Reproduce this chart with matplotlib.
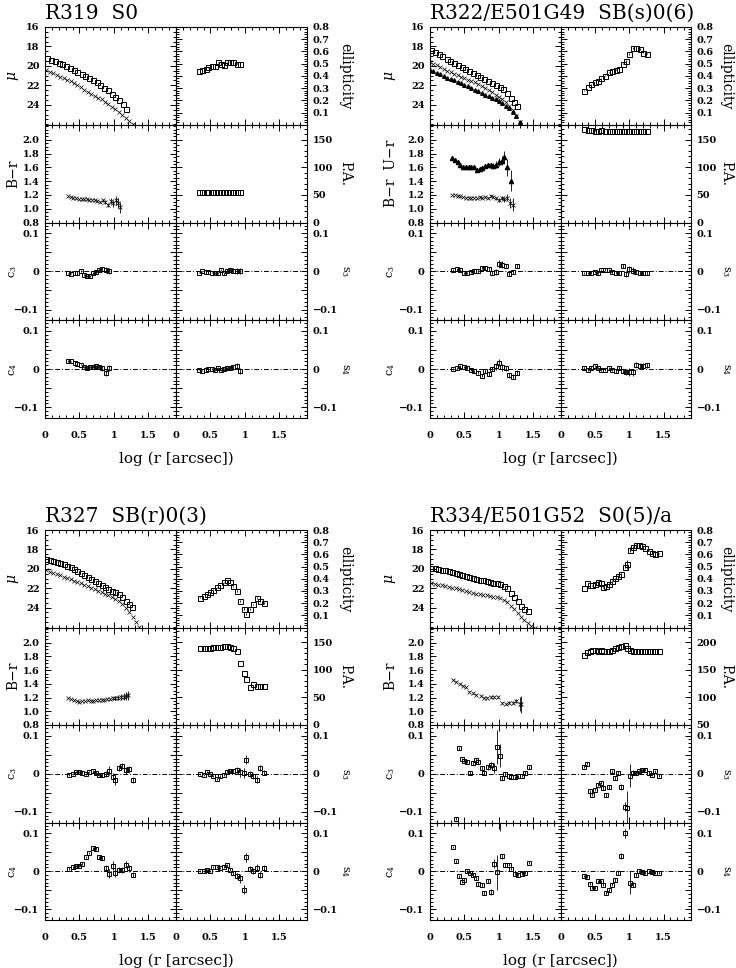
import numpy as np
import matplotlib
matplotlib.use('Agg')
import matplotlib.pyplot as plt
from matplotlib.ticker import MultipleLocator, FixedLocator, FuncFormatter

plt.rcParams['font.family'] = 'DejaVu Serif'
plt.rcParams['mathtext.fontset'] = 'dejavuserif'
plt.rcParams['axes.linewidth'] = 0.8

# ---------------- R319 S0 ----------------
r319_mu_R_x = [0.03, 0.09, 0.14, 0.20, 0.25, 0.31, 0.36, 0.42, 0.47, 0.53, 0.58,
               0.64, 0.69, 0.75, 0.80, 0.86, 0.91, 0.97, 1.02, 1.08, 1.13, 1.18]
r319_mu_R = [19.2, 19.35, 19.5, 19.7, 19.85, 20.0, 20.2, 20.4, 20.6, 20.8, 21.0,
             21.2, 21.4, 21.7, 22.0, 22.3, 22.5, 22.9, 23.2, 23.55, 23.95, 24.45]
r319_mu_B_x = [0.02, 0.07, 0.12, 0.17, 0.22, 0.27, 0.32, 0.37, 0.42, 0.47, 0.52, 0.57, 0.62,
               0.67, 0.72, 0.77, 0.82, 0.87, 0.92, 0.97, 1.02, 1.07, 1.12, 1.17, 1.22, 1.27]
r319_mu_B = [20.4, 20.6, 20.75, 20.9, 21.1, 21.25, 21.45, 21.6, 21.8, 22.0, 22.2, 22.45, 22.65,
             22.85, 23.05, 23.25, 23.45, 23.7, 23.95, 24.2, 24.45, 24.75, 25.05, 25.4, 25.7, 26.0]
r319_col_x = [0.34, 0.375, 0.41, 0.45, 0.49, 0.53, 0.57, 0.61, 0.64, 0.68, 0.72,
              0.76, 0.80, 0.84, 0.875, 0.91, 0.95, 0.99, 1.03, 1.06, 1.09]
r319_col = [1.18, 1.17, 1.16, 1.15, 1.14, 1.14, 1.14, 1.14, 1.13, 1.13, 1.12,
            1.11, 1.10, 1.12, 1.10, 1.05, 1.11, 1.08, 1.12, 1.08, 1.02]
r319_col_err = [0.005, 0.005, 0.005, 0.006, 0.006, 0.007, 0.008, 0.008, 0.009, 0.01, 0.012,
                0.014, 0.016, 0.02, 0.025, 0.03, 0.04, 0.05, 0.06, 0.07, 0.08]
r319_iso_x = [0.34, 0.38, 0.43, 0.47, 0.52, 0.56, 0.61, 0.65, 0.70, 0.74, 0.79, 0.83, 0.88, 0.93]
r319_ell = [0.44, 0.45, 0.46, 0.47, 0.48, 0.48, 0.51, 0.50, 0.49, 0.51, 0.51, 0.51, 0.50, 0.50]
r319_pa = [55, 55, 55, 56, 56, 56, 56, 56, 56, 56, 55, 55, 56, 56]
r319_c3 = [-0.005, -0.006, -0.004, -0.003, 0.001, -0.010, -0.012, -0.012, -0.005, -0.002, 0.003, 0.005, 0.003, 0.002]
r319_s3 = [-0.003, 0.000, -0.001, -0.002, -0.003, -0.005, -0.005, 0.003, -0.005, 0.001, 0.003, 0.002, 0.002, 0.002]
r319_c4 = [0.021, 0.020, 0.017, 0.013, 0.012, 0.006, 0.004, 0.005, 0.006, 0.007, 0.005, 0.002, -0.010, 0.004]
r319_s4 = [-0.001, -0.004, -0.003, 0.000, 0.001, -0.002, 0.003, -0.003, 0.000, 0.002, 0.003, 0.005, 0.008, -0.006]
r319_herr = [0.002, 0.002, 0.002, 0.002, 0.002, 0.003, 0.003, 0.003, 0.004, 0.004, 0.005, 0.006, 0.008, 0.008]

# ---------------- R322/E501G49 ----------------
r322_mu_R_x = [0.02, 0.07, 0.13, 0.18, 0.24, 0.29, 0.35, 0.40, 0.46, 0.51, 0.57, 0.62,
               0.68, 0.73, 0.79, 0.84, 0.90, 0.95, 1.01, 1.06, 1.12, 1.17, 1.22, 1.26]
r322_mu_R = [18.4, 18.6, 18.8, 19.0, 19.3, 19.5, 19.7, 19.9, 20.15, 20.35, 20.55, 20.75,
             20.95, 21.15, 21.35, 21.55, 21.75, 21.95, 22.15, 22.35, 22.8, 23.3, 23.7, 24.1]
r322_mu_B_x = [0.00, 0.05, 0.10, 0.15, 0.20, 0.25, 0.30, 0.35, 0.40, 0.45, 0.50, 0.55, 0.60, 0.65,
               0.70, 0.75, 0.80, 0.85, 0.90, 0.95, 1.00, 1.05, 1.10, 1.15, 1.20, 1.25, 1.30]
r322_mu_B = [19.6, 19.8, 19.95, 20.15, 20.35, 20.5, 20.65, 20.8, 20.95, 21.1, 21.25, 21.4, 21.55, 21.7,
             21.9, 22.05, 22.25, 22.45, 22.7, 22.95, 23.2, 23.45, 23.75, 24.1, 24.5, 25.1, 25.8]
r322_mu_U_x = [0.00, 0.05, 0.10, 0.15, 0.20, 0.25, 0.30, 0.35, 0.40, 0.45, 0.50, 0.55, 0.60, 0.65,
               0.70, 0.75, 0.80, 0.85, 0.90, 0.95, 1.00, 1.05, 1.10, 1.15, 1.20, 1.25, 1.30]
r322_mu_U = [20.4, 20.55, 20.7, 20.85, 21.05, 21.2, 21.35, 21.5, 21.65, 21.8, 21.95, 22.1, 22.3, 22.45,
             22.6, 22.75, 22.95, 23.1, 23.3, 23.45, 23.65, 23.85, 24.1, 24.35, 24.7, 25.2, 25.8]
r322_col_x = [0.32, 0.36, 0.40, 0.44, 0.48, 0.52, 0.56, 0.60, 0.64, 0.68, 0.72, 0.76,
              0.80, 0.84, 0.88, 0.92, 0.96, 1.00, 1.04, 1.08, 1.12, 1.16, 1.20]
r322_col = [1.20, 1.20, 1.19, 1.18, 1.17, 1.16, 1.16, 1.15, 1.16, 1.15, 1.17, 1.16,
            1.17, 1.16, 1.18, 1.17, 1.15, 1.13, 1.16, 1.14, 1.16, 1.08, 1.06]
r322_col_err = [0.005, 0.005, 0.005, 0.005, 0.006, 0.006, 0.006, 0.007, 0.007, 0.008, 0.009, 0.01,
                0.011, 0.012, 0.014, 0.016, 0.02, 0.025, 0.03, 0.035, 0.05, 0.07, 0.09]
r322_ur_x = [0.32, 0.36, 0.40, 0.44, 0.48, 0.52, 0.56, 0.60, 0.64, 0.68, 0.72,
             0.76, 0.80, 0.84, 0.88, 0.92, 0.96, 1.00, 1.04, 1.08, 1.12, 1.17]
r322_ur = [1.74, 1.71, 1.68, 1.63, 1.61, 1.61, 1.61, 1.61, 1.60, 1.56, 1.57,
           1.59, 1.62, 1.64, 1.63, 1.62, 1.64, 1.68, 1.70, 1.75, 1.60, 1.41]
r322_ur_err = [0.01, 0.01, 0.01, 0.01, 0.01, 0.01, 0.01, 0.012, 0.012, 0.014, 0.016,
               0.02, 0.025, 0.03, 0.035, 0.04, 0.05, 0.06, 0.07, 0.09, 0.12, 0.15]
r322_iso_x = [0.34, 0.39, 0.44, 0.49, 0.54, 0.59, 0.64, 0.70, 0.75, 0.80,
              0.85, 0.90, 0.95, 1.00, 1.05, 1.10, 1.15, 1.20, 1.26]
r322_ell = [0.28, 0.31, 0.33, 0.35, 0.36, 0.38, 0.40, 0.43, 0.44, 0.45,
            0.46, 0.50, 0.52, 0.58, 0.63, 0.63, 0.62, 0.59, 0.58]
r322_pa = [169, 168, 167, 166, 166, 167, 165, 166, 166, 165, 166, 166, 165, 165, 165, 166, 165, 166, 165]
r322_c3 = [0.004, 0.005, 0.003, -0.004, -0.004, -0.002, 0.001, 0.001, 0.009, 0.008,
           0.006, -0.004, -0.001, 0.020, 0.017, 0.014, -0.006, -0.002, 0.014]
r322_s3 = [-0.004, -0.004, -0.003, -0.002, -0.003, 0.003, 0.004, 0.003, -0.002, -0.003,
           -0.004, 0.014, -0.006, 0.005, 0.002, -0.002, -0.004, -0.004, -0.004]
r322_c4 = [0.000, 0.003, 0.007, 0.006, 0.004, -0.001, -0.005, -0.009, -0.017, -0.004,
           -0.012, 0.000, 0.007, 0.017, 0.005, 0.002, -0.016, -0.020, -0.009]
r322_s4 = [0.003, -0.001, 0.004, 0.008, 0.003, -0.001, -0.001, 0.002, -0.001, -0.004,
           0.002, -0.005, -0.008, -0.007, -0.008, 0.012, 0.009, 0.009, 0.010]
r322_herr = [0.003, 0.003, 0.003, 0.003, 0.003, 0.003, 0.004, 0.004, 0.004, 0.005,
             0.005, 0.006, 0.008, 0.01, 0.009, 0.006, 0.006, 0.006, 0.006]

# ---------------- R327 ----------------
r327_mu_R_x = [0.02, 0.07, 0.12, 0.17, 0.22, 0.27, 0.32, 0.37, 0.42, 0.47, 0.52, 0.57, 0.62,
               0.67, 0.72, 0.77, 0.82, 0.87, 0.92, 0.97, 1.02, 1.07, 1.12, 1.17, 1.22, 1.26]
r327_mu_R = [18.95, 19.05, 19.15, 19.25, 19.4, 19.55, 19.7, 19.85, 20.05, 20.25, 20.45, 20.65, 20.85,
             21.05, 21.25, 21.45, 21.65, 21.85, 22.05, 22.25, 22.4, 22.6, 22.95, 23.3, 23.6, 23.9]
r327_mu_B_x = [0.02, 0.07, 0.12, 0.17, 0.22, 0.27, 0.32, 0.37, 0.42, 0.47, 0.52, 0.57, 0.62, 0.67,
               0.72, 0.77, 0.82, 0.87, 0.92, 0.97, 1.02, 1.07, 1.12, 1.17, 1.22, 1.27, 1.32, 1.37]
r327_mu_B = [20.15, 20.3, 20.4, 20.55, 20.65, 20.8, 20.95, 21.1, 21.25, 21.4, 21.5, 21.65, 21.8, 21.95,
             22.1, 22.25, 22.4, 22.55, 22.7, 22.9, 23.1, 23.35, 23.65, 24.0, 24.45, 25.0, 25.5, 26.0]
r327_col_x = [0.34, 0.38, 0.42, 0.46, 0.50, 0.54, 0.58, 0.62, 0.66, 0.70, 0.74, 0.78,
              0.82, 0.86, 0.90, 0.94, 0.98, 1.02, 1.06, 1.10, 1.14, 1.18, 1.21]
r327_col = [1.19, 1.18, 1.16, 1.15, 1.14, 1.15, 1.15, 1.16, 1.15, 1.15, 1.16, 1.16,
            1.17, 1.17, 1.18, 1.18, 1.19, 1.19, 1.20, 1.21, 1.21, 1.22, 1.23]
r327_col_err = [0.004, 0.004, 0.004, 0.005, 0.005, 0.005, 0.006, 0.006, 0.007, 0.008, 0.009, 0.01,
                0.012, 0.014, 0.016, 0.02, 0.025, 0.03, 0.035, 0.04, 0.05, 0.06, 0.07]
r327_iso_x = [0.35, 0.40, 0.45, 0.50, 0.54, 0.59, 0.64, 0.69, 0.74, 0.78,
              0.83, 0.88, 0.93, 0.98, 1.02, 1.07, 1.12, 1.17, 1.22, 1.27]
r327_ell = [0.245, 0.26, 0.275, 0.29, 0.31, 0.33, 0.345, 0.37, 0.39, 0.37,
            0.34, 0.30, 0.22, 0.155, 0.11, 0.15, 0.19, 0.24, 0.22, 0.20]
r327_pa = [139, 139, 140, 140, 141, 141, 142, 144, 143, 142,
           140, 135, 112, 95, 84, 69, 75, 71, 70, 70]
r327_c3 = [-0.003, 0.000, 0.004, 0.004, 0.003, 0.000, 0.004, 0.006, 0.002, -0.003,
           -0.003, 0.000, 0.008, -0.009, -0.017, 0.015, 0.021, 0.009, 0.012, -0.016]
r327_s3 = [0.000, -0.004, 0.005, 0.000, -0.005, -0.014, -0.007, -0.003, 0.005, 0.006,
           0.008, 0.010, 0.004, 0.002, 0.037, 0.000, -0.005, -0.016, 0.015, 0.003]
r327_c4 = [0.007, 0.010, 0.013, 0.015, 0.020, 0.037, 0.047, 0.060, 0.059, 0.037,
           0.035, 0.008, -0.006, 0.015, -0.004, 0.004, 0.003, 0.017, 0.008, -0.009]
r327_s4 = [0.000, 0.000, 0.004, 0.000, 0.011, 0.011, 0.009, 0.012, 0.016, 0.004,
           -0.004, -0.013, -0.019, -0.048, 0.037, 0.007, 0.000, 0.009, -0.009, 0.009]
r327_herr = [0.003, 0.003, 0.003, 0.003, 0.003, 0.003, 0.003, 0.004, 0.004, 0.004,
             0.005, 0.008, 0.012, 0.012, 0.012, 0.008, 0.008, 0.009, 0.009, 0.007]

# ---------------- R334/E501G52 ----------------
r334_mu_R_x = [0.02, 0.07, 0.12, 0.17, 0.22, 0.27, 0.32, 0.37, 0.42, 0.47, 0.52, 0.57, 0.62, 0.67, 0.72,
               0.77, 0.82, 0.87, 0.92, 0.97, 1.02, 1.07, 1.12, 1.17, 1.22, 1.27, 1.32, 1.37, 1.42]
r334_mu_R = [19.9, 19.95, 20.0, 20.1, 20.15, 20.25, 20.3, 20.4, 20.5, 20.6, 20.75, 20.85, 20.95, 21.05, 21.15,
             21.2, 21.3, 21.4, 21.45, 21.5, 21.6, 21.75, 22.0, 22.5, 22.9, 23.35, 23.8, 24.1, 24.3]
r334_mu_B_x = [0.02, 0.07, 0.12, 0.17, 0.22, 0.27, 0.32, 0.37, 0.42, 0.47, 0.52, 0.57, 0.62, 0.67, 0.72, 0.77,
               0.82, 0.87, 0.92, 0.97, 1.02, 1.07, 1.12, 1.17, 1.22, 1.27, 1.32, 1.37, 1.42, 1.47, 1.52]
r334_mu_B = [21.5, 21.55, 21.65, 21.7, 21.8, 21.85, 21.95, 22.0, 22.1, 22.2, 22.3, 22.4, 22.5, 22.55, 22.6, 22.65,
             22.75, 22.8, 22.9, 22.95, 23.05, 23.2, 23.45, 23.8, 24.15, 24.55, 24.95, 25.3, 25.6, 25.85, 26.05]
r334_col_x = [0.33, 0.38, 0.43, 0.48, 0.52, 0.57, 0.62, 0.67, 0.74, 0.78, 0.83,
              0.88, 0.93, 0.98, 1.05, 1.10, 1.15, 1.20, 1.25, 1.30, 1.32]
r334_col = [1.46, 1.43, 1.40, 1.375, 1.35, 1.285, 1.26, 1.24, 1.225, 1.20, 1.20,
            1.21, 1.21, 1.21, 1.125, 1.11, 1.125, 1.125, 1.15, 1.11, 1.10]
r334_col_err = [0.01, 0.008, 0.008, 0.008, 0.008, 0.008, 0.008, 0.008, 0.008, 0.008, 0.009,
                0.01, 0.01, 0.012, 0.015, 0.015, 0.02, 0.02, 0.03, 0.10, 0.12]
r334_iso_x = [0.34, 0.38, 0.42, 0.46, 0.50, 0.54, 0.58, 0.62, 0.66, 0.70, 0.75, 0.79, 0.84,
              0.88, 0.93, 0.97, 1.01, 1.05, 1.09, 1.14, 1.18, 1.23, 1.28, 1.33, 1.38, 1.43]
r334_ell = [0.325, 0.365, 0.35, 0.345, 0.355, 0.375, 0.365, 0.33, 0.34, 0.36, 0.385, 0.405, 0.425,
            0.44, 0.50, 0.52, 0.64, 0.66, 0.68, 0.68, 0.67, 0.65, 0.63, 0.61, 0.60, 0.61]
r334_pa = [177, 182, 185, 186, 186, 185, 186, 184, 184, 185, 186, 189, 192,
           194, 196, 190, 186, 184, 184, 184, 184, 184, 184, 184, 184, 185]
r334_c3 = [np.nan, -0.118, 0.067, 0.038, 0.034, 0.032, 0.003, 0.028, 0.037, 0.030, 0.015, 0.002, 0.017,
           0.024, 0.015, 0.071, 0.047, -0.011, 0.000, -0.007, -0.009, -0.009, -0.007, -0.005, 0.003, 0.017]
r334_s3 = [0.019, 0.026, -0.046, -0.055, -0.042, -0.029, -0.023, -0.037, -0.055, -0.035, 0.006, -0.011, 0.002,
           -0.035, -0.087, -0.090, -0.005, 0.003, 0.003, 0.006, 0.009, 0.010, 0.003, -0.003, 0.006, -0.005]
r334_c4 = [0.063, 0.026, -0.013, -0.028, -0.023, 0.000, -0.004, -0.009, -0.017, -0.033, -0.037, -0.057, -0.026,
           -0.055, 0.020, -0.003, 0.135, 0.039, 0.016, 0.017, 0.006, -0.007, -0.009, -0.007, -0.004, 0.022]
r334_s4 = [-0.013, -0.015, -0.033, -0.043, -0.043, -0.026, -0.026, -0.035, -0.057, -0.050, -0.035, -0.023, -0.004,
           0.039, 0.100, np.nan, -0.030, -0.035, -0.009, 0.000, -0.003, -0.004, 0.000, -0.003, -0.004, -0.004]
r334_herr = [0.003, 0.004, 0.004, 0.004, 0.004, 0.004, 0.004, 0.005, 0.005, 0.005, 0.005, 0.006, 0.006,
             0.008, 0.012, 0.045, 0.03, 0.006, 0.005, 0.004, 0.004, 0.004, 0.004, 0.004, 0.004, 0.004]

W, H = 736, 968
fig = plt.figure(figsize=(W / 100, H / 100), dpi=100)


def harm_fmt(v, pos):
    if abs(v) < 1e-9:
        return '0'
    if abs(v * 10 - round(v * 10)) < 1e-6:
        return ('%.1f' % v).replace('-', '\u2212')
    return ''


def style(ax, left_col, bottom_row):
    ax.set_xlim(0, 1.9)
    ax.xaxis.set_major_locator(FixedLocator([0, 0.5, 1, 1.5]))
    ax.xaxis.set_minor_locator(MultipleLocator(0.1))
    ax.xaxis.set_major_formatter(FuncFormatter(lambda v, p: '%g' % v))
    ax.tick_params(which='both', direction='in', top=True, right=True,
                   labelsize=7, width=0.7,
                   labelbottom=bottom_row, labelleft=left_col, labelright=not left_col)
    ax.tick_params(which='major', length=4.5, pad=3)
    ax.tick_params(which='minor', length=2.2)
    ax.tick_params(axis='x', pad=9)
    ax.tick_params(axis='y', pad=4)


def eb(ax, x, y, err, **kw):
    ax.errorbar(x, y, yerr=err, ecolor='k', elinewidth=0.6, capsize=0, **kw)


def galaxy(x0, xm, x1, ytop, ybot, title, mus, cols, iso_x, ell, pa, c3, s3, c4, s4, herr,
           pa_lim, pa_ticks, col_label, lab_left, lab_right):
    h = (ybot - ytop) / 4.0
    axs = []
    for i in range(4):
        row = []
        for j, (a, b) in enumerate([(x0, xm), (xm, x1)]):
            ax = fig.add_axes([a / W, 1 - (ytop + (i + 1) * h) / H, (b - a) / W, h / H])
            style(ax, j == 0, i == 3)
            row.append(ax)
        axs.append(row)

    sq = dict(fmt='s', ms=3.6, mfc='none', mec='k', mew=0.7)

    # surface brightness
    ax = axs[0][0]
    for x, y, kind in mus:
        if kind == 'sq':
            ax.plot(x, y, 's', ms=3.6, mfc='none', mec='k', mew=0.7)
        elif kind == 'x':
            ax.plot(x, y, 'x', ms=2.4, mec='k', mew=0.5)
        else:
            ax.plot(x, y, '^', ms=2.6, color='k')
    ax.set_ylim(26.05, 16)
    ax.yaxis.set_major_locator(FixedLocator([16, 18, 20, 22, 24]))
    ax.yaxis.set_minor_locator(MultipleLocator(0.5))
    ax.set_ylabel(r'$\mu$', fontsize=10)

    # colours
    ax = axs[1][0]
    for x, y, e, kind in cols:
        if kind == 'x':
            eb(ax, x, y, e, fmt='x', ms=2.4, mec='k', mew=0.5)
        else:
            eb(ax, x, y, e, fmt='^', ms=3, color='k')
    ax.set_ylim(0.8, 2.22)
    ax.yaxis.set_major_locator(FixedLocator([0.8, 1.0, 1.2, 1.4, 1.6, 1.8, 2.0]))
    ax.yaxis.set_minor_locator(MultipleLocator(0.05))
    ax.yaxis.set_major_formatter(FuncFormatter(lambda v, p: '%.1f' % v))
    ax.set_ylabel(col_label, fontsize=10)

    # ellipticity
    ax = axs[0][1]
    eb(ax, iso_x, ell, [e * 0.8 for e in herr], **sq)
    ax.set_ylim(0, 0.8)
    ax.yaxis.set_major_locator(FixedLocator([0.1, 0.2, 0.3, 0.4, 0.5, 0.6, 0.7, 0.8]))
    ax.yaxis.set_minor_locator(MultipleLocator(0.02))
    ax.yaxis.set_major_formatter(FuncFormatter(lambda v, p: '%.1f' % v))
    ax.set_ylabel('ellipticity', fontsize=10, rotation=270)

    # position angle
    ax = axs[1][1]
    ax.plot(iso_x, pa, 's', ms=3.6, mfc='none', mec='k', mew=0.7)
    ax.set_ylim(*pa_lim)
    ax.yaxis.set_major_locator(FixedLocator(pa_ticks))
    ax.yaxis.set_minor_locator(MultipleLocator(10))
    ax.yaxis.set_major_formatter(FuncFormatter(lambda v, p: '%d' % v))
    ax.set_ylabel('P.A.', fontsize=10, rotation=270)

    # harmonic terms
    for ax, vals, lab in [(axs[2][0], c3, r'c$_3$'), (axs[2][1], s3, r's$_3$'),
                          (axs[3][0], c4, r'c$_4$'), (axs[3][1], s4, r's$_4$')]:
        ax.axhline(0, color='k', lw=0.7, dashes=(5, 2, 1, 2))
        eb(ax, iso_x, vals, herr, fmt='s', ms=3.0, mfc='none', mec='k', mew=0.7)
        ax.set_ylim(-0.128, 0.128)
        ax.yaxis.set_major_locator(MultipleLocator(0.05))
        ax.yaxis.set_minor_locator(MultipleLocator(0.01))
        ax.yaxis.set_major_formatter(FuncFormatter(harm_fmt))
        if ax in (axs[2][1], axs[3][1]):
            ax.set_ylabel(lab, fontsize=8, rotation=270)
        else:
            ax.set_ylabel(lab, fontsize=8)

    for i in range(4):
        axs[i][0].yaxis.set_label_coords(lab_left, 0.5)
        axs[i][0].yaxis.label.set_va('center')
        axs[i][1].yaxis.set_label_position('right')
        axs[i][1].yaxis.set_label_coords(lab_right, 0.5)
        axs[i][1].yaxis.label.set_va('center')
        for ax in axs[i]:
            plt.setp(ax.get_xticklabels() + ax.get_yticklabels(), fontweight='bold')

    fig.text(x0 / W, 1 - (ytop - 8) / H, title, fontsize=14.5, ha='left', va='baseline')
    fig.text((x0 + x1) / 2 / W, 1 - (ybot + 41) / H, 'log (r [arcsec])',
             fontsize=11, ha='center', va='center')


galaxy(45, 176, 307, 27, 418, 'R319  S0',
       [(r319_mu_R_x, r319_mu_R, 'sq'), (r319_mu_B_x, r319_mu_B, 'x')],
       [(r319_col_x, r319_col, r319_col_err, 'x')],
       r319_iso_x, r319_ell, r319_pa, r319_c3, r319_s3, r319_c4, r319_s4, r319_herr,
       (0, 177), [0, 50, 100, 150], 'B\u2212r', -0.24, 1.29)

galaxy(430, 561, 691, 27, 418, 'R322/E501G49  SB(s)0(6)',
       [(r322_mu_R_x, r322_mu_R, 'sq'), (r322_mu_B_x, r322_mu_B, 'x'),
        (r322_mu_U_x, r322_mu_U, 'tri')],
       [(r322_col_x, r322_col, r322_col_err, 'x'), (r322_ur_x, r322_ur, r322_ur_err, 'tri')],
       r322_iso_x, r322_ell, r322_pa, r322_c3, r322_s3, r322_c4, r322_s4, r322_herr,
       (0, 177), [0, 50, 100, 150], 'B\u2212r  U\u2212r', -0.30, 1.27)

galaxy(45, 176, 307, 530, 920, 'R327  SB(r)0(3)',
       [(r327_mu_R_x, r327_mu_R, 'sq'), (r327_mu_B_x, r327_mu_B, 'x')],
       [(r327_col_x, r327_col, r327_col_err, 'x')],
       r327_iso_x, r327_ell, r327_pa, r327_c3, r327_s3, r327_c4, r327_s4, r327_herr,
       (0, 177), [0, 50, 100, 150], 'B\u2212r', -0.24, 1.29)

galaxy(430, 561, 691, 530, 920, 'R334/E501G52  S0(5)/a',
       [(r334_mu_R_x, r334_mu_R, 'sq'), (r334_mu_B_x, r334_mu_B, 'x')],
       [(r334_col_x, r334_col, r334_col_err, 'x')],
       r334_iso_x, r334_ell, r334_pa, r334_c3, r334_s3, r334_c4, r334_s4, r334_herr,
       (50, 227), [50, 100, 150, 200], 'B\u2212r', -0.30, 1.27)

fig.savefig('out.png', dpi=100)
